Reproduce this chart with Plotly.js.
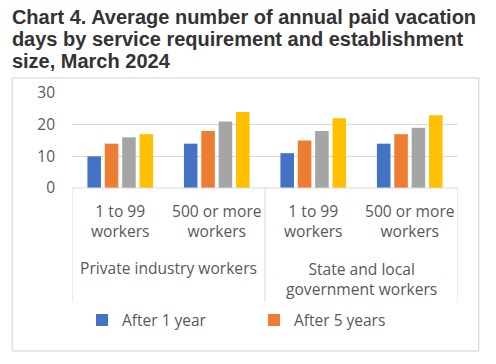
<!DOCTYPE html>
<html>
<head>
<meta charset="utf-8">
<script src="https://cdn.plot.ly/plotly-3.0.1.min.js"></script>
<style>html,body{margin:0;padding:0;background:#fff;}#chart{width:496px;height:364px;}</style>
</head>
<body>
<div id="chart"></div>
<script>
const categories = ['p_small', 'p_large', 's_small', 's_large'];
const subLabels = ['1 to 99<br>workers', '500 or more<br>workers', '1 to 99<br>workers', '500 or more<br>workers'];
const groupLabels = ['Private industry workers', 'State and local<br>government workers'];
const seriesNames = ['After 1 year', 'After 5 years', 'After 10 years', 'After 20 years'];
const after1 = [10, 14, 11, 14];
const after5 = [14, 18, 15, 17];
const after10 = [16, 21, 18, 19];
const after20 = [17, 24, 22, 23];
const colors = ['#4472C4', '#ED7D31', '#A5A5A5', '#FFC000'];
const legendShown = [true, true, false, false];

const seriesValues = [after1, after5, after10, after20];
const traces = seriesValues.map((vals, i) => ({
  type: 'bar', x: categories, y: vals, name: seriesNames[i],
  marker: {color: colors[i]}, showlegend: legendShown[i],
  hovertemplate: '%{y}<extra>' + seriesNames[i] + '</extra>'
}));

const font = '"Open Sans", "Noto Sans", sans-serif';
const grey = '#595959';
const lineCol = '#d9d9d9';

const layout = {
  width: 496, height: 364,
  margin: {l: 72, r: 38, t: 93, b: 176},
  paper_bgcolor: '#fff', plot_bgcolor: '#fff',
  barmode: 'group', bargap: 0.28, bargroupgap: 0.22,
  title: {
    text: '<b><span style="font-size:20px">Chart 4. Average number of annual paid vacation<br>days by service requirement and establishment<br>size, March 2024</span></b>',
    x: 0.024, xanchor: 'left', xref: 'container', y: 0.935, yanchor: 'top', yref: 'container',
    font: {family: '"Liberation Sans", Arial, sans-serif', size: 17.2, color: '#333333'}
  },
  xaxis: {
    type: 'category', tickvals: categories, ticktext: subLabels,
    tickfont: {family: font, size: 15.6, color: grey},
    showgrid: false, zeroline: false, showline: false, ticks: '', ticklabelstandoff: 12,
    range: [-0.5, 3.5], fixedrange: true
  },
  yaxis: {
    range: [0, 30], tickvals: [0, 10, 20, 30], ticktext: ['0', '10', '20', '30'],
    tickfont: {family: font, size: 15.5, color: grey},
    showgrid: true, gridcolor: lineCol, gridwidth: 1, zeroline: false, showline: false,
    ticks: '', ticklabelstandoff: 16, fixedrange: true
  },
  legend: {
    orientation: 'h', x: 0.026, xanchor: 'left', y: -1.395, yanchor: 'middle',
    font: {family: font, size: 15.5, color: grey}, entrywidth: 127, entrywidthmode: 'pixels',
    itemclick: false, itemdoubleclick: false
  },
  annotations: [
    {x: 0.5, xref: 'x', y: -0.842, yref: 'paper', text: groupLabels[0], showarrow: false,
     xanchor: 'center', yanchor: 'middle', font: {family: font, size: 15.6, color: grey}},
    {x: 2.5, xref: 'x', y: -0.958, yref: 'paper', text: groupLabels[1], showarrow: false,
     xanchor: 'center', yanchor: 'middle', font: {family: font, size: 15.6, color: grey}}
  ],
  shapes: [
    {type: 'rect', xref: 'paper', yref: 'paper', x0: -0.155, x1: 1.054, y0: -1.716, y1: 1.158,
     line: {color: '#d0d0d0', width: 1}, layer: 'below'},
    {type: 'line', xref: 'x', yref: 'paper', x0: -0.5, x1: 3.5, y0: 0, y1: 0, line: {color: lineCol, width: 1}},
    {type: 'line', xref: 'x', yref: 'paper', x0: -0.5, x1: -0.5, y0: 0, y1: -1.2, line: {color: lineCol, width: 1}},
    {type: 'line', xref: 'x', yref: 'paper', x0: 1.5, x1: 1.5, y0: 0, y1: -1.2, line: {color: lineCol, width: 1}},
    {type: 'line', xref: 'x', yref: 'paper', x0: 3.5, x1: 3.5, y0: 0, y1: -1.2, line: {color: lineCol, width: 1}}
  ]
};

Plotly.newPlot('chart', traces, layout, {displayModeBar: false});
</script>
</body>
</html>
